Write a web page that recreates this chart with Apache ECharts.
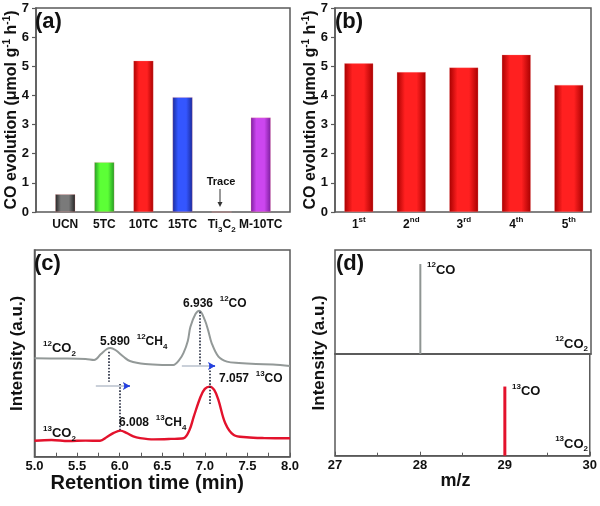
<!DOCTYPE html>
<html><head><meta charset="utf-8">
<script src="https://cdn.jsdelivr.net/npm/echarts@6/dist/echarts.min.js"></script>
<style>html,body{margin:0;padding:0;background:#fff}#c{width:600px;height:506px}</style>
</head><body><div id="c"></div>
<script>
// ---------- data ----------
const catsA = ['UCN', '5TC', '10TC', '15TC', 'Ti3C2', 'M-10TC'];
const valsA = [0.61, 1.71, 5.19, 3.94, 0, 3.24];
const catsB = ['1st', '2nd', '3rd', '4th', '5th'];
const valsB = [5.10, 4.80, 4.96, 5.40, 4.36];
const yRangeAB = [0, 7];
const timeRangeC = [5, 8];
const mzRange = [27, 30];
// retention time (min), intensity (a.u.)
const gray12 = [[5.0,47.6],[5.3,47.5],[5.6,47.3],[5.7,46.8],[5.78,49.7],[5.85,52.1],[5.89,52.6],[5.95,51.6],[6.05,48.2],[6.12,46.3],[6.3,44.8],[6.5,44.4],[6.63,44.4],[6.7,46.8],[6.75,50.2],[6.8,56.0],[6.83,62.7],[6.89,69.0],[6.936,70.6],[7.0,66.1],[7.04,61.0],[7.08,55.0],[7.16,48.4],[7.26,46.0],[7.4,45.3],[7.6,44.8],[7.8,44.6],[8.0,43.9]];
const red13 = [[5.0,7.7],[5.2,8.1],[5.4,7.6],[5.6,7.8],[5.77,7.7],[5.85,9.5],[5.93,11.5],[6.008,12.6],[6.08,11.5],[6.16,9.8],[6.24,9.0],[6.4,8.4],[6.6,8.6],[6.75,8.9],[6.82,12.9],[6.87,19.4],[6.95,29.0],[7.0,32.8],[7.057,33.9],[7.11,32.3],[7.16,27.4],[7.24,16.2],[7.34,10.5],[7.49,9.4],[7.7,9.0],[8.0,8.9]];
// peak guide lines [x, yTop, yBottom]
const guides12 = [[5.877, 50.8, 36.3], [6.937, 70.1, 44.4]];
const guides13 = [[5.998, 35.2, 12.9], [7.054, 44.8, 25.0]];
// shift arrows [xStart, xEnd, y]
const shifts = [[5.72, 6.12, 34.2], [6.73, 7.12, 43.9]];
// mass spectra [m/z, relative intensity]
const ms12 = [[28, 0.865]];
const ms13 = [[29, 0.68]];

// ---------- styles ----------
const FONT = 'Arial, "Liberation Sans", sans-serif';
const barColorsA = [['#222222','#7a7a7a'],['#249a24','#5cff36'],['#a80000','#ff2020'],['#1a2a9a','#3456ff'],['#222','#777'],['#7d1f9e','#cc46ef']];
const redBar = ['#a80000','#ff2020'];
function grad(c){
  return new echarts.graphic.LinearGradient(0,0,1,0,[
    {offset:0,color:c[0]},{offset:0.28,color:c[1]},{offset:0.68,color:c[1]},{offset:1,color:c[0]}]);
}
const frame = {show:true, borderColor:'#5a5a5a', borderWidth:1.5, backgroundColor:'rgba(0,0,0,0)'};
const subsup = {
  s:{fontSize:8, fontWeight:'bold', fontFamily:FONT, lineHeight:18, verticalAlign:'top', color:'#111'},
  b:{fontSize:8, fontWeight:'bold', fontFamily:FONT, lineHeight:18, verticalAlign:'bottom', color:'#111'}
};
const yTitle = 'CO evolution (μmol g{s|-1} h{s|-1})';
const titleRich = {
  s:{fontSize:10, fontWeight:'bold', fontFamily:FONT, lineHeight:20, verticalAlign:'top', color:'#111'}
};

function valY(min,max,gi,name,show){
  return {type:'value', gridIndex:gi, min:min, max:max, interval:1,
    name: show ? name : '', nameLocation:'middle', nameGap:14, nameRotate:90, nameMoveOverlap:false,
    nameTextStyle:{fontSize:16, fontWeight:'bold', fontFamily:FONT, color:'#111', lineHeight:20, rich:titleRich},
    axisLine:{show:show, lineStyle:{color:'#5a5a5a', width:1.5}},
    axisTick:{show:show, inside:false, length:4, lineStyle:{color:'#5a5a5a', width:1.2}},
    axisLabel:{show:show, margin:7, fontSize:13, fontWeight:'bold', fontFamily:FONT, color:'#111'},
    splitLine:{show:false}};
}
function hiddenX(gi,min,max){
  return {type:'value', gridIndex:gi, min:min, max:max, show:false};
}

const gA = {left:36, top:8, width:254, height:204};
const gB = {left:335, top:8, width:256, height:204};
const bandA = 39.1, bandB = 52.5;

const option = {
  animation:false,
  backgroundColor:'#fff',
  grid:[
    Object.assign({}, gA, frame),
    {left: gA.left + (gA.width - bandA*6)/2, top:gA.top, width:bandA*6, height:gA.height},
    Object.assign({}, gB, frame),
    {left: 463.8 - bandB*2.5, top:gB.top, width:bandB*5, height:gB.height},
    Object.assign({left:34.5, top:250, width:255.5, height:206.7}, frame),
    Object.assign({left:335, top:250, width:256, height:104}, frame),
    Object.assign({left:335, top:354, width:256, height:101.7}, frame),
    {left:335, top:250, width:256, height:205.7}
  ],
  xAxis:[
    hiddenX(0,0,1),
    {type:'category', gridIndex:1, data:catsA,
      axisLine:{show:false}, axisTick:{show:false},
      axisLabel:{interval:0, margin:4, fontSize:12, fontWeight:'bold', fontFamily:FONT, color:'#111', lineHeight:18, rich:subsup,
        formatter:v => v.replace(/([A-Za-z])(\d)/g, '$1{b|$2}')}},
    hiddenX(2,0,1),
    {type:'category', gridIndex:3, data:catsB,
      axisLine:{show:false}, axisTick:{show:false},
      axisLabel:{interval:0, margin:4, fontSize:12, fontWeight:'bold', fontFamily:FONT, color:'#111', lineHeight:18, rich:subsup,
        formatter:v => v.replace(/^(\d)([a-z]+)$/, '$1{s|$2}')}},
    {type:'value', gridIndex:4, min:timeRangeC[0], max:timeRangeC[1], interval:0.5,
      name:'Retention time (min)', nameLocation:'middle', nameGap:17, nameMoveOverlap:false,
      nameTextStyle:{fontSize:20, fontWeight:'bold', fontFamily:FONT, color:'#111', padding:[0,30,0,0]},
      axisLine:{lineStyle:{color:'#5a5a5a', width:1.5}},
      axisTick:{inside:true, length:4, lineStyle:{color:'#5a5a5a'}},
      minorTick:{show:true, splitNumber:2, length:4, lineStyle:{color:'#5a5a5a'}},
      axisLabel:{margin:3, fontSize:13, fontWeight:'bold', fontFamily:FONT, color:'#111', formatter:v => v.toFixed(1)},
      splitLine:{show:false}, minorSplitLine:{show:false}},
    {type:'value', gridIndex:5, min:mzRange[0], max:mzRange[1], interval:1,
      axisLine:{lineStyle:{color:'#5a5a5a', width:1.5}}, axisTick:{show:false}, axisLabel:{show:false}, splitLine:{show:false}},
    {type:'value', gridIndex:6, min:mzRange[0], max:mzRange[1], interval:1,
      name:'m/z', nameLocation:'middle', nameGap:16, nameMoveOverlap:false,
      nameTextStyle:{fontSize:18, fontWeight:'bold', fontFamily:FONT, color:'#111', padding:[0,14,0,0]},
      axisLine:{lineStyle:{color:'#5a5a5a', width:1.5}},
      axisTick:{inside:true, length:4, lineStyle:{color:'#5a5a5a'}},
      minorTick:{show:true, splitNumber:2, length:3, lineStyle:{color:'#5a5a5a'}},
      axisLabel:{margin:3, fontSize:13, fontWeight:'bold', fontFamily:FONT, color:'#111'},
      splitLine:{show:false}, minorSplitLine:{show:false}},
    hiddenX(7,0,1)
  ],
  yAxis:[
    valY(yRangeAB[0], yRangeAB[1], 0, yTitle, true),
    valY(yRangeAB[0], yRangeAB[1], 1, '', false),
    valY(yRangeAB[0], yRangeAB[1], 2, yTitle, true),
    valY(yRangeAB[0], yRangeAB[1], 3, '', false),
    {type:'value', gridIndex:4, min:0, max:100, name:'Intensity (a.u.)', nameLocation:'middle', nameGap:9,
      nameTextStyle:{fontSize:17, fontWeight:'bold', fontFamily:FONT, color:'#111'},
      axisLine:{lineStyle:{color:'#5a5a5a', width:1.5}}, axisTick:{show:false}, axisLabel:{show:false}, splitLine:{show:false}},
    {type:'value', gridIndex:5, min:0, max:1, show:false},
    {type:'value', gridIndex:6, min:0, max:1, show:false},
    {type:'value', gridIndex:7, min:0, max:1, name:'Intensity (a.u.)', nameLocation:'middle', nameGap:7,
      nameTextStyle:{fontSize:17, fontWeight:'bold', fontFamily:FONT, color:'#111'},
      axisLine:{show:false}, axisTick:{show:false}, axisLabel:{show:false}, splitLine:{show:false}}
  ],
  series:[
    {type:'bar', xAxisIndex:1, yAxisIndex:1, barWidth:20,
      data: valsA.map((v,i) => ({value:v, itemStyle:{color:grad(barColorsA[i])}})),
      itemStyle:{borderColor:'rgba(255,150,150,0.5)', borderWidth:0.5}},
    {type:'bar', xAxisIndex:3, yAxisIndex:3, barWidth:29,
      data: valsB.map(v => ({value:v, itemStyle:{color:grad(redBar)}})),
      itemStyle:{borderColor:'rgba(255,150,150,0.5)', borderWidth:0.5}},
    {type:'line', xAxisIndex:4, yAxisIndex:4, data:gray12, smooth:0.35, showSymbol:false,
      lineStyle:{color:'#939998', width:2}, z:3,
      markLine:{silent:true, symbol:['none','none'], label:{show:false},
        lineStyle:{type:'dotted', color:'#20263a', width:1.6},
        data: guides12.concat(guides13).map(g => [{coord:[g[0], g[1]]}, {coord:[g[0], g[2]]}])}},
    {type:'line', xAxisIndex:4, yAxisIndex:4, data:red13, smooth:0.35, showSymbol:false,
      lineStyle:{color:'#e3122c', width:2.4}, z:3,
      markLine:{silent:true, symbol:['none','arrow'], symbolSize:[6,7], label:{show:false},
        lineStyle:{type:'solid', color:'#b9c0cc', width:1.6},
        data: shifts.map(s => [{coord:[s[0], s[2]]}, {coord:[s[1], s[2]]}])}},
    {type:'line', xAxisIndex:4, yAxisIndex:4, data:[], showSymbol:false,
      markLine:{silent:true, symbol:['none','arrow'], symbolSize:[6,7], label:{show:false},
        lineStyle:{type:'solid', color:'#2440e0', width:1.6},
        data: shifts.map(s => [{coord:[s[1]-0.07, s[2]]}, {coord:[s[1], s[2]]}])}},
    {type:'bar', xAxisIndex:5, yAxisIndex:5, barWidth:2, data:ms12, itemStyle:{color:'#8f9593'}},
    {type:'bar', xAxisIndex:6, yAxisIndex:6, barWidth:3, data:ms13, itemStyle:{color:'#e3122c'}}
  ],
  graphic:[]
};

function txt(x, y, text, size, align){
  return {type:'text', x:x, y:y, silent:true, z:10,
    style:{text:text, fill:'#111', font:'bold '+size+'px '+FONT, align:align||'left', verticalAlign:'middle',
      rich:{s:{fontSize:8, fontWeight:'bold', fontFamily:FONT, fill:'#111', lineHeight:18, verticalAlign:'top'},
            b:{fontSize:8, fontWeight:'bold', fontFamily:FONT, fill:'#111', lineHeight:18, verticalAlign:'bottom'},
            n:{fontSize:size, fontWeight:'bold', fontFamily:FONT, fill:'#111', lineHeight:18}}}};
}
option.graphic = [
  txt(35, 22, '(a)', 22), txt(335, 22, '(b)', 22), txt(34, 264, '(c)', 22), txt(336, 264, '(d)', 22),
  txt(221, 181.5, 'Trace', 11, 'center'),
  {type:'line', silent:true, shape:{x1:220, y1:189, x2:220, y2:203}, style:{stroke:'#333', lineWidth:1}},
  {type:'polygon', silent:true, shape:{points:[[217.5,202],[222.5,202],[220,207]]}, style:{fill:'#333'}},
  txt(43, 348.3, '{s|12}{n|CO}{b|2}', 13),
  txt(100, 341.7, '{n|5.890}  {s|12}{n|CH}{b|4}', 12),
  txt(183, 303.3, '{n|6.936}  {s|12}{n|CO}', 12),
  txt(219, 378.3, '{n|7.057}  {s|13}{n|CO}', 12),
  txt(43, 433.3, '{s|13}{n|CO}{b|2}', 13),
  txt(119, 422.7, '{n|6.008}  {s|13}{n|CH}{b|4}', 12),
  txt(427, 270, '{s|12}{n|CO}', 13),
  txt(588, 344, '{s|12}{n|CO}{b|2}', 13, 'right'),
  txt(512, 391.7, '{s|13}{n|CO}', 13),
  txt(588, 444, '{s|13}{n|CO}{b|2}', 13, 'right')
];

const chart = echarts.init(document.getElementById('c'), null, {renderer:'canvas'});
chart.setOption(option);
</script></body></html>
